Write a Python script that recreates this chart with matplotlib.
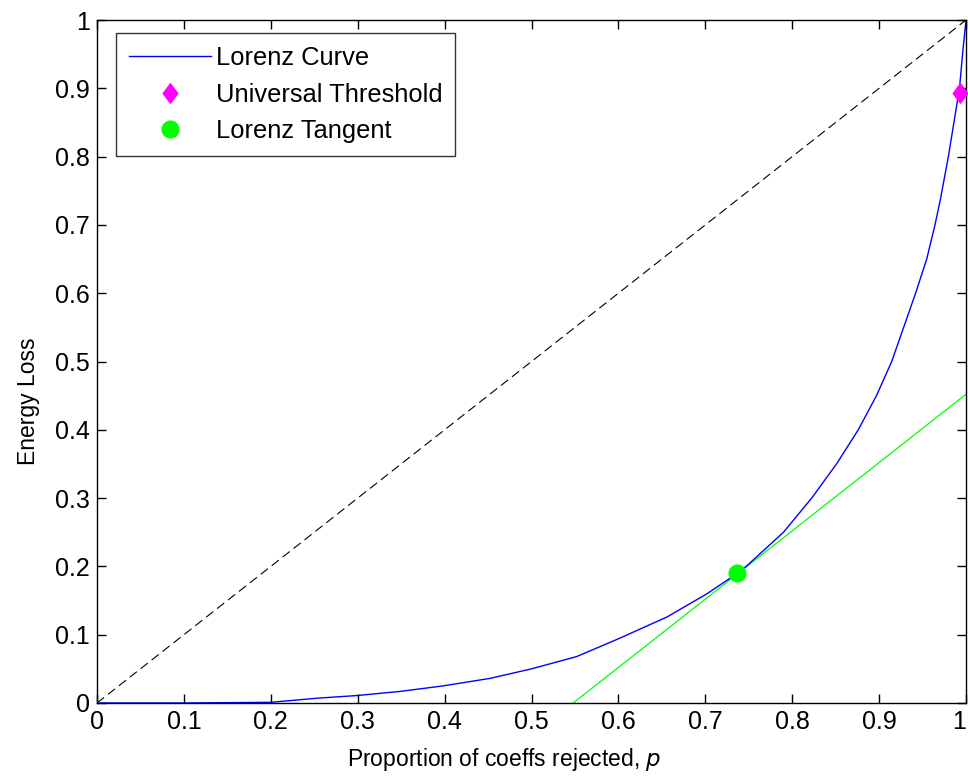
import matplotlib
matplotlib.use("Agg")
import matplotlib.pyplot as plt
from matplotlib.path import Path

plt.rcParams['font.family'] = ['Liberation Sans', 'DejaVu Sans']
plt.rcParams['lines.scale_dashes'] = False

# Lorenz curve
lorenz_x = [0.0, 0.1, 0.2, 0.253, 0.300, 0.349, 0.398, 0.452, 0.5, 0.552, 0.6,
            0.656, 0.702, 0.737, 0.747, 0.790, 0.8224, 0.851, 0.876, 0.897, 0.9145,
            0.942, 0.9548, 0.9643, 0.9705, 0.9797, 0.9925, 0.9965, 1.0]
lorenz_y = [0.0, 0.0, 0.001, 0.007, 0.011, 0.017, 0.025, 0.036, 0.050, 0.068, 0.094,
            0.126, 0.160, 0.190, 0.200, 0.250, 0.300, 0.350, 0.400, 0.450, 0.500,
            0.600, 0.650, 0.700, 0.737, 0.800, 0.900, 0.956, 1.0]

# Equality line
diag_x = [0.0, 1.0]
diag_y = [0.0, 1.0]

# Tangent line (slope 1)
tangent_x = [0.548, 1.0]
tangent_y = [0.0, 0.452]

# Markers
universal_x, universal_y = [0.9935], [0.893]
tangent_pt_x, tangent_pt_y = [0.737], [0.190]

xticks = [0, 0.1, 0.2, 0.3, 0.4, 0.5, 0.6, 0.7, 0.8, 0.9, 1]
xticklabels = ['0', '0.1', '0.2', '0.3', '0.4', '0.5', '0.6', '0.7', '0.8', '0.9', '1']
yticks = xticks
yticklabels = xticklabels

fig = plt.figure(figsize=(9.68, 7.76), dpi=100)
ax = fig.add_axes([97/968, 73/776, 869/968, 683/776])

ax.plot(diag_x, diag_y, color='black', lw=0.8, dashes=(6.5, 3.5))
ax.plot(tangent_x, tangent_y, color=(0, 1, 0), lw=0.9)
lc, = ax.plot(lorenz_x, lorenz_y, color=(0, 0, 1), lw=1.0, label='Lorenz Curve')

diamond = Path([(0, 1), (0.75, 0), (0, -1), (-0.75, 0), (0, 1)],
               [Path.MOVETO, Path.LINETO, Path.LINETO, Path.LINETO, Path.CLOSEPOLY])
ut, = ax.plot(universal_x, universal_y, linestyle='none', marker=diamond,
              markersize=14, color=(1, 0, 1), mec=(1, 0, 1), label='Universal Threshold',
              clip_on=False, zorder=5)
lt, = ax.plot(tangent_pt_x, tangent_pt_y, linestyle='none', marker='o',
              markersize=12, color=(0, 1, 0), mec=(0, 1, 0), label='Lorenz Tangent', zorder=5)

ax.set_xlim(0, 1)
ax.set_ylim(0, 1)
ax.set_xticks(xticks)
ax.set_xticklabels(xticklabels)
ax.set_yticks(yticks)
ax.set_yticklabels(yticklabels)
ax.tick_params(direction='in', length=6.5, width=1.0, top=True, right=True,
               labelsize=18, colors='black', pad=5)
ax.get_xticklabels()[-1].set_horizontalalignment('right')
for s in ax.spines.values():
    s.set_linewidth(1.0)

ax.set_xlabel('Proportion of coeffs rejected, $\\it{p}$', fontsize=16.5)
ax.xaxis.set_label_coords((504 - 97) / 869, -0.063)
ax.set_ylabel('Energy Loss', fontsize=16.5)
ax.yaxis.set_label_coords(-0.066, (703 - 401) / 683)

leg = ax.legend(handles=[lc, ut, lt], loc='upper left', bbox_to_anchor=(19/869, 1 - 13/683),
                fontsize=18.4, frameon=True, fancybox=False, edgecolor='black',
                borderpad=0.5, handlelength=3.2, handletextpad=0.2, labelspacing=0.5,
                borderaxespad=0)
leg.get_frame().set_linewidth(1.0)

fig.savefig('out.png', dpi=100)
